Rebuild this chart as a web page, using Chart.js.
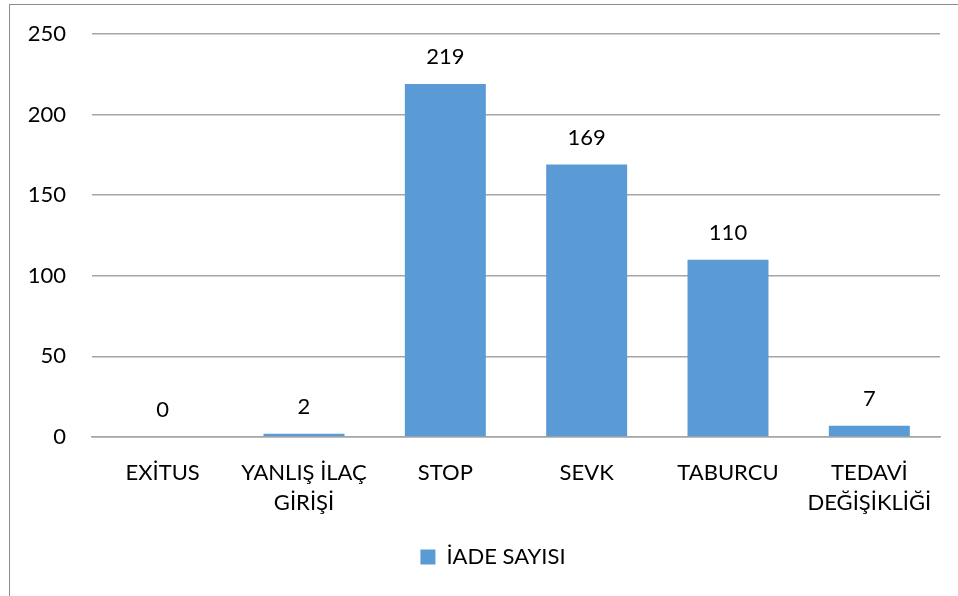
<!DOCTYPE html>
<html>
<head>
<meta charset="utf-8">
<script src="https://cdn.jsdelivr.net/npm/chart.js@4"></script>
<style>
  html, body { margin: 0; padding: 0; background: #fff; }
  #wrap { position: relative; width: 958px; height: 596px; overflow: hidden; }
  #frame {
    position: absolute; left: 9px; top: 4px; width: 1000px; height: 700px;
    border-left: 1.5px solid #8c8c8c; border-top: 1.5px solid #8c8c8c;
  }
  #chart { position: absolute; left: 0; top: 0; }
</style>
</head>
<body>
<div id="wrap">
  <div id="frame"></div>
  <canvas id="chart" width="958" height="596"></canvas>
</div>
<script>
const categories = [
    ['EXİTUS'],
    ['YANLIŞ İLAÇ', 'GİRİŞİ'],
    ['STOP'],
    ['SEVK'],
    ['TABURCU'],
    ['TEDAVİ', 'DEĞİŞİKLİĞİ']
];
const iadeSayisi = [0, 2, 219, 169, 110, 7];
const yTicks = [0, 50, 100, 150, 200, 250];

const FONT = "Lato, 'Open Sans', sans-serif";
const barColor = '#5B9BD5';

// value labels above each bar
const valueLabels = {
    id: 'valueLabels',
    afterDatasetsDraw(chart) {
        const ctx = chart.ctx;
        const meta = chart.getDatasetMeta(0);
        ctx.save();
        ctx.font = '22px ' + FONT;
        ctx.fillStyle = '#000';
        ctx.textAlign = 'center';
        ctx.textBaseline = 'middle';
        meta.data.forEach((bar, i) => {
            ctx.fillText(String(iadeSayisi[i]), bar.x, bar.y - 27);
        });
        ctx.restore();
    }
};

// nudge the legend a little right, like the original
const legendShift = {
    id: 'legendShift',
    afterLayout(chart) {
        const lg = chart.legend;
        if (lg) { lg.left += 23; lg.right += 23; }
    }
};

new Chart(document.getElementById('chart').getContext('2d'), {
    type: 'bar',
    data: {
        labels: categories,
        datasets: [{
            label: 'İADE SAYISI',
            data: iadeSayisi,
            backgroundColor: barColor,
            categoryPercentage: 1,
            barPercentage: 0.573
        }]
    },
    options: {
        responsive: false,
        animation: false,
        layout: { padding: { top: 34, right: 18, bottom: 18, left: 0 } },
        plugins: {
            legend: {
                position: 'bottom',
                labels: {
                    boxWidth: 15,
                    boxHeight: 15,
                    padding: 10,
                    color: '#000',
                    font: { family: FONT, size: 22 }
                }
            },
            tooltip: { enabled: false }
        },
        scales: {
            x: {
                grid: { display: false, drawTicks: false },
                border: { display: true, color: '#a6a6a6', width: 1.5 },
                ticks: {
                    color: '#000',
                    padding: 21,
                    maxRotation: 0,
                    autoSkip: false,
                    font: { family: FONT, size: 22, lineHeight: 1.35 }
                },
                afterFit(scale) { scale.height = 99; }
            },
            y: {
                min: 0,
                max: 250,
                afterBuildTicks(scale) { scale.ticks = yTicks.map(v => ({ value: v })); },
                grid: { color: '#a6a6a6', lineWidth: 1.5, drawTicks: false },
                border: { display: false },
                ticks: {
                    color: '#000',
                    padding: 26,
                    font: { family: FONT, size: 22 }
                },
                afterFit(scale) {
                    scale.width = 92;
                    scale.paddingTop = 0;
                    scale.paddingBottom = 0;
                }
            }
        }
    },
    plugins: [valueLabels, legendShift]
});
</script>
</body>
</html>
